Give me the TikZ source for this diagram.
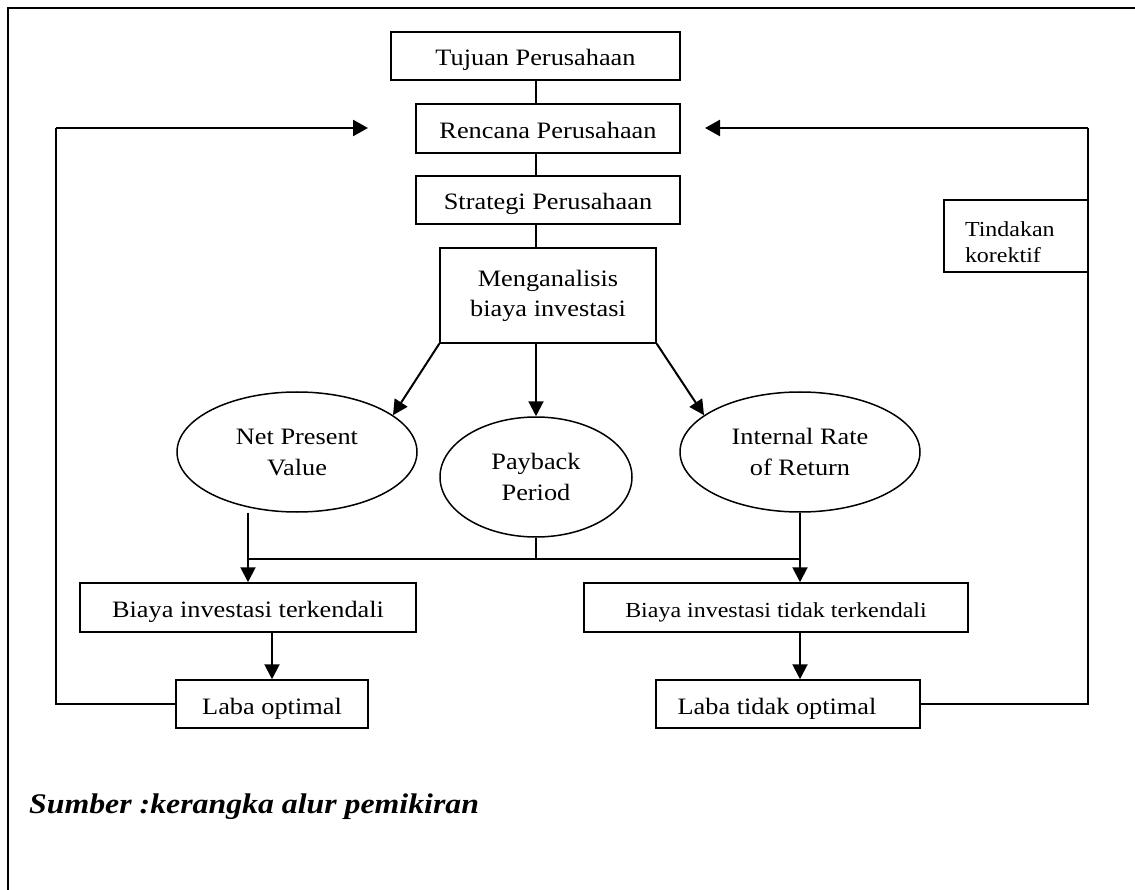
\documentclass[tikz,border=0pt]{standalone}
\usepackage{fontspec}
\setmainfont{Liberation Serif}[FakeStretch=1.12]
\usetikzlibrary{arrows.meta,shapes.geometric}
\tikzset{
  box/.style={draw,line width=1.5pt,inner sep=0pt,align=center,font=\fontsize{23.5}{30}\selectfont},
  one/.style={text height=20pt,text depth=0pt},
  sbox/.style={box,font=\fontsize{21.4}{26}\selectfont},
  oval/.style={draw,ellipse,line width=1.5pt,inner sep=0pt,align=center,font=\fontsize{23.5}{31}\selectfont},
  thin/.style={line width=1.4pt},
  arr/.style={line width=2pt,-{Triangle[length=15pt,width=15pt]}},
  fb/.style={line width=2.5pt,-{Triangle[length=15pt,width=16pt]}},
  frame/.style={line width=2pt}
}
\begin{document}
\begin{tikzpicture}[x=1pt,y=-1pt]
\useasboundingbox (0,0) rectangle (1135,890);
\draw[frame] (8,890) -- (8,8) -- (1135,8);

\node[box,one,minimum width=289pt,minimum height=48pt] (tj) at (535.5,56) {Tujuan Perusahaan};
\node[box,one,minimum width=264pt,minimum height=49pt] (rc) at (548,128.5) {Rencana Perusahaan};
\node[box,one,minimum width=264pt,minimum height=48pt] (st) at (548,200) {Strategi Perusahaan};
\node[box,minimum width=216pt,minimum height=95pt] (mg) at (548,295.5) {Menganalisis\\biaya investasi};
\node[sbox,minimum width=144pt,minimum height=72pt,align=left,text width=102pt] (tk) at (1016,236) {\rule{0pt}{27pt}Tindakan\\korektif};

\node[oval,minimum width=240pt,minimum height=120pt] (npv) at (297,452) {Net Present\\Value};
\node[oval,minimum width=192pt,minimum height=120pt] (pb) at (536,477) {Payback\\Period};
\node[oval,minimum width=240pt,minimum height=120pt] (irr) at (800,452) {Internal Rate\\of Return};

\node[box,one,minimum width=336pt,minimum height=49pt] (bt) at (248,607.5) {Biaya investasi terkendali};
\node[sbox,one,minimum width=384pt,minimum height=49pt] (btt) at (776,607.5) {Biaya investasi tidak terkendali};
\node[box,one,minimum width=192pt,minimum height=48pt] (lo) at (272,704) {Laba optimal};
\node[box,one,minimum width=264pt,minimum height=48pt] (lto) at (788,704) {\hspace*{-22pt}Laba tidak optimal};

\node[anchor=base west,inner sep=0pt,font=\fontsize{28.4}{32}\selectfont\bfseries\itshape] (src) at (29,813) {Sumber :kerangka alur pemikiran};

% vertical chain
\draw[thin] (tj.south -| pb.north) -- (rc.north -| pb.north);
\draw[thin] (rc.south -| pb.north) -- (st.north -| pb.north);
\draw[thin] (st.south -| pb.north) -- (mg.north -| pb.north);

% analysis arrows
\draw[arr] (mg.south west) -- (npv.21);
\draw[arr] (mg.south -| pb.north) -- (pb.north);
\draw[arr] (mg.south east) -- (irr.159);

% merge
\coordinate (jl) at (248,559);
\coordinate (jr) at (800,559);
\draw[thin] (pb.south) -- (pb.south |- jl);
\draw[thin] (jl) -- (jr);
\draw[arr] (npv.south -| bt.north) -- (bt.north);
\draw[arr] (irr.south) -- (irr.south |- btt.north);

% to profit
\draw[arr] (lo.north |- bt.south) -- (lo.north);
\draw[arr] (irr.south |- btt.south) -- (irr.south |- lto.north);

% feedback
\coordinate (fl) at (56,704);
\coordinate (fltop) at (56,128);
\coordinate (tipl) at (368,128);
\coordinate (fr) at (1088,704);
\coordinate (frtop) at (1088,128);
\coordinate (tipr) at (705,128);
\draw[thin] (lo.west) -- (fl) -- (fltop);
\draw[fb] (fltop) -- (tipl);
\draw[thin] (lto.east) -- (fr) -- (frtop);
\draw[fb] (frtop) -- (tipr);
\end{tikzpicture}
\end{document}
